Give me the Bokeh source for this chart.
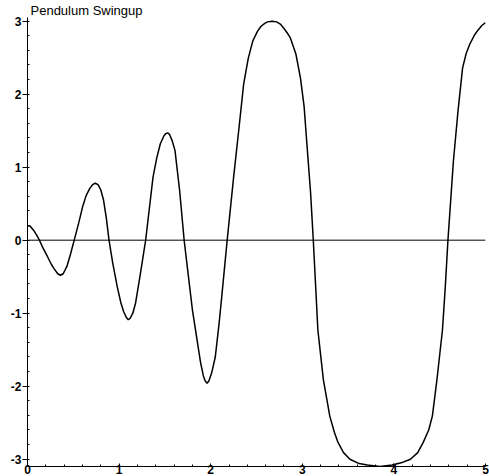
from bokeh.plotting import figure
from bokeh.models import Span, SingleIntervalTicker, Range1d, PrintfTickFormatter
from bokeh.embed import file_html
from bokeh.resources import INLINE

title_text = "Pendulum Swingup"

t_vals = [0.00, 0.03, 0.07, 0.10, 0.13, 0.17, 0.22, 0.26, 0.29, 0.33,
          0.36, 0.39, 0.43, 0.47, 0.51, 0.56, 0.60, 0.64, 0.68, 0.71,
          0.74, 0.77, 0.80, 0.83, 0.86, 0.89, 0.93, 0.98, 1.02, 1.05,
          1.08, 1.10, 1.12, 1.15, 1.18, 1.23, 1.29, 1.33, 1.37, 1.41,
          1.45, 1.49, 1.51, 1.53, 1.55, 1.58, 1.61, 1.66, 1.71, 1.76,
          1.80, 1.85, 1.89, 1.92, 1.94, 1.96, 1.98, 2.01, 2.05, 2.09,
          2.12, 2.18, 2.25, 2.31, 2.36, 2.41, 2.46, 2.51, 2.55, 2.59,
          2.62, 2.67, 2.72, 2.76, 2.80, 2.84, 2.87, 2.93, 2.98, 3.02,
          3.05, 3.09, 3.12, 3.17, 3.23, 3.30, 3.35, 3.39, 3.45, 3.52,
          3.62, 3.71, 3.85, 3.98, 4.08, 4.18, 4.26, 4.32, 4.38, 4.42,
          4.47, 4.53, 4.56, 4.59, 4.65, 4.70, 4.75, 4.79, 4.83, 4.88,
          4.92, 4.96, 5.00]
theta_vals = [0.20, 0.19, 0.13, 0.07, 0.00, -0.11, -0.23, -0.33, -0.39, -0.46,
              -0.48, -0.46, -0.36, -0.19, 0.00, 0.24, 0.45, 0.61, 0.71, 0.76,
              0.78, 0.76, 0.69, 0.55, 0.31, 0.00, -0.31, -0.64, -0.86, -0.98,
              -1.06, -1.09, -1.07, -1.00, -0.86, -0.48, 0.00, 0.43, 0.86, 1.12,
              1.32, 1.43, 1.46, 1.47, 1.45, 1.36, 1.23, 0.69, 0.00, -0.53,
              -0.95, -1.36, -1.68, -1.86, -1.93, -1.96, -1.93, -1.82, -1.60, -1.16,
              -0.78, 0.00, 0.86, 1.55, 2.14, 2.49, 2.73, 2.86, 2.93, 2.97,
              2.99, 3.00, 2.99, 2.96, 2.90, 2.83, 2.77, 2.55, 2.22, 1.83,
              1.32, 0.66, 0.00, -1.23, -1.91, -2.41, -2.63, -2.77, -2.91, -3.00,
              -3.06, -3.08, -3.10, -3.08, -3.05, -3.00, -2.91, -2.77, -2.60, -2.41,
              -1.91, -1.23, -0.66, 0.00, 1.09, 1.77, 2.36, 2.56, 2.69, 2.81,
              2.88, 2.94, 2.98]

p = figure(width=489, height=476, output_backend="svg", toolbar_location=None,
           x_range=Range1d(0, 5), y_range=Range1d(-3.1, 3.05),
           min_border_left=27, min_border_right=4, min_border_top=16, min_border_bottom=4)
p.outline_line_color = None
p.xgrid.visible = False
p.ygrid.visible = False
p.background_fill_color = "white"
p.border_fill_color = "white"

p.title.text = title_text
p.title.text_font = "Liberation Sans"
p.title.text_font_size = "13px"
p.title.text_font_style = "normal"
p.title.text_color = "black"
p.title.align = "left"
p.title.offset = 3
p.title.standoff = 0

for ax in (p.xaxis[0], p.yaxis[0]):
    ax.ticker = SingleIntervalTicker(interval=1, num_minor_ticks=5)
    ax.formatter = PrintfTickFormatter(format="%d")
    ax.axis_line_color = "black"
    ax.axis_line_width = 1
    ax.major_tick_line_color = "black"
    ax.minor_tick_line_color = "black"
    ax.major_label_text_font = "Liberation Sans"
    ax.major_label_text_font_style = "bold"
    ax.major_label_text_font_size = "12px"
    ax.major_label_text_color = "black"

p.xaxis.major_tick_in = 3
p.xaxis.major_tick_out = 0
p.xaxis.minor_tick_in = 2
p.xaxis.minor_tick_out = 0
p.xaxis.major_label_standoff = -2

p.yaxis.major_tick_in = 0
p.yaxis.major_tick_out = 5
p.yaxis.minor_tick_in = 2
p.yaxis.minor_tick_out = 0
p.yaxis.major_label_standoff = 1

p.add_layout(Span(location=0, dimension="width", line_color="black", line_width=1))

p.line(t_vals, theta_vals, line_color="black", line_width=1.5)

open("out.html", "w").write(file_html(p, INLINE))
